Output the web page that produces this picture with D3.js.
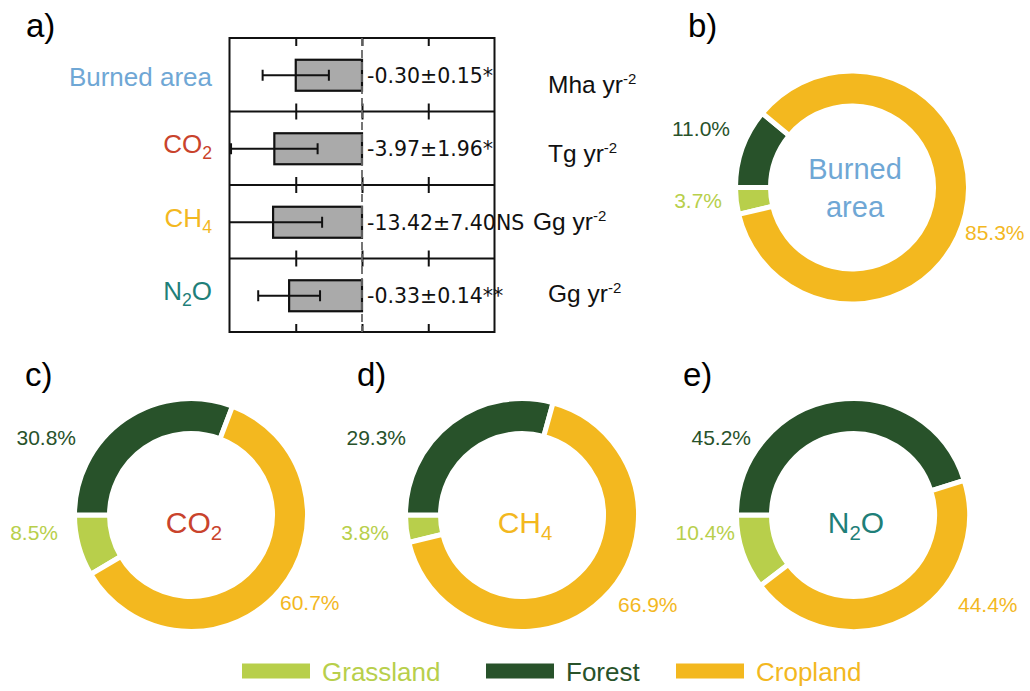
<!DOCTYPE html>
<html>
<head>
<meta charset="utf-8">
<script src="https://cdn.jsdelivr.net/npm/d3@7"></script>
<style>
  body { margin: 0; background: #fff; }
  svg { display: block; }
</style>
</head>
<body>
<svg id="fig" width="1030" height="691"></svg>
<script>
// ---------------- data ----------------
// Panel a: linear trends of burned area and fire emissions
const trendNames = ["Burned area", "CO2", "CH4", "N2O"];
const trendMean  = [-0.30, -3.97, -13.42, -0.33];
const trendErr   = [0.15, 1.96, 7.40, 0.14];
const trendSig   = ["*", "*", "NS", "**"];
const trendUnit  = ["Mha", "Tg", "Gg", "Gg"];
const axisLimit  = [0.6, 6, 20, 0.6];
const axisTicks  = [[-0.3, 0, 0.3], [-3, 0, 3], [-10, 0, 10], [-0.3, 0, 0.3]];

// Panels b-e: share of each land cover type (%)
const landTypes    = ["Grassland", "Forest", "Cropland"];
const burnedShare  = [3.7, 11.0, 85.3];
const co2Share     = [8.5, 30.8, 60.7];
const ch4Share     = [3.8, 29.3, 66.9];
const n2oShare     = [10.4, 45.2, 44.4];

// ---------------- styling ----------------
const nameColor = ["#6fa7d5", "#c9432c", "#f3b81f", "#1f7f79"];
const landColor = { Grassland: "#b8cf4b", Forest: "#28522a", Cropland: "#f3b81f" };
const SANS = "'Liberation Sans', Arial, Helvetica, sans-serif";
const MONO = "'DejaVu Sans', sans-serif";

const svg = d3.select("#fig");
const fmt = d3.formatLocale({ decimal: ".", thousands: ",", grouping: [3], currency: ["", ""], minus: "-" }).format(".2f");

// text with digits drawn as subscripts (chemical formulae)
function formula(sel, str, size) {
  if (!/\d/.test(str)) { sel.text(str); return; }
  str.split(/(\d)/).filter(s => s.length).forEach(part => {
    if (/^\d$/.test(part)) {
      sel.append("tspan").attr("font-size", size * 0.68).attr("dy", size * 0.22).text(part);
    } else {
      const t = sel.append("tspan").text(part);
      if (sel.selectAll("tspan").size() > 1) t.attr("dy", -size * 0.22);
    }
  });
}

// panel letters
const panelTags = [["a)", 26, 37], ["b)", 688, 37], ["c)", 25, 386], ["d)", 357, 386], ["e)", 683, 386]];
svg.selectAll("text.tag").data(panelTags).join("text")
  .attr("class", "tag")
  .attr("x", d => d[1])
  .attr("y", d => d[2])
  .attr("font-family", SANS).attr("font-size", 33).attr("fill", "#000")
  .text(d => d[0]);

// ---------------- panel a ----------------
const box = { left: 229.5, right: 494.5, top: 38, bottom: 332 };
const rowH = (box.bottom - box.top) / trendNames.length;
const barH = 31;

const defs = svg.append("defs");
defs.append("clipPath").attr("id", "boxClip")
  .append("rect").attr("x", box.left).attr("y", box.top)
  .attr("width", box.right - box.left).attr("height", box.bottom - box.top);

const pa = svg.append("g");

trendNames.forEach((name, i) => {
  const y0 = box.top + i * rowH;
  const yc = y0 + rowH / 2 + 0.5;
  const x = d3.scaleLinear().domain([-axisLimit[i], axisLimit[i]]).range([box.left, box.right]);
  const g = pa.append("g");

  // ticks on the top and bottom of each row, pointing inward
  const tickLen = 8;
  g.append("g").attr("transform", `translate(0,${y0})`)
    .call(d3.axisTop(x).tickValues(axisTicks[i]).tickSize(-tickLen).tickFormat(""))
    .call(s => s.select(".domain").remove())
    .call(s => s.selectAll(".tick line").attr("stroke", "#111").attr("stroke-width", 2));
  g.append("g").attr("transform", `translate(0,${y0 + rowH})`)
    .call(d3.axisBottom(x).tickValues(axisTicks[i]).tickSize(-tickLen).tickFormat(""))
    .call(s => s.select(".domain").remove())
    .call(s => s.selectAll(".tick line").attr("stroke", "#111").attr("stroke-width", 2));

  const clipG = g.append("g").attr("clip-path", "url(#boxClip)");
  // bar
  clipG.append("rect")
    .attr("x", x(Math.min(0, trendMean[i])))
    .attr("width", Math.abs(x(trendMean[i]) - x(0)))
    .attr("y", yc - barH / 2).attr("height", barH)
    .attr("fill", "#aaaaaa").attr("stroke", "#111").attr("stroke-width", 2.2);
  // error bar
  const lo = trendMean[i] - trendErr[i], hi = trendMean[i] + trendErr[i];
  clipG.append("line").attr("x1", x(lo)).attr("x2", x(hi)).attr("y1", yc).attr("y2", yc)
    .attr("stroke", "#111").attr("stroke-width", 2);
  clipG.selectAll("line.cap").data([lo, hi]).join("line").attr("class", "cap")
    .attr("x1", d => x(d)).attr("x2", d => x(d))
    .attr("y1", yc - 5.5).attr("y2", yc + 5.5)
    .attr("stroke", "#111").attr("stroke-width", 2);

  // value label
  g.append("text")
    .attr("x", x(0) + 5).attr("y", yc + 7.5)
    .attr("font-family", MONO).attr("font-size", 20.5).attr("fill", "#111")
    .text(`${fmt(trendMean[i])}±${fmt(trendErr[i])}${trendSig[i]}`);

  // row name
  const nm = pa.append("text")
    .attr("x", 212).attr("y", [86, 153, 227, 300][i])
    .attr("text-anchor", "end")
    .attr("font-family", SANS).attr("font-size", 26).attr("fill", nameColor[i]);
  formula(nm, name, 26);

  // unit
  const ut = pa.append("text")
    .attr("x", [548, 548, 533, 548][i]).attr("y", [93, 161.5, 230, 301.5][i])
    .attr("font-family", SANS).attr("font-size", 24.5).attr("fill", "#111");
  ut.append("tspan").text(`${trendUnit[i]} yr`);
  ut.append("tspan").attr("font-size", 15).attr("dy", -9).text("-2");
});

// frame, row separators and zero line
pa.append("rect")
  .attr("x", box.left).attr("y", box.top)
  .attr("width", box.right - box.left).attr("height", box.bottom - box.top)
  .attr("fill", "none").attr("stroke", "#111").attr("stroke-width", 2);
pa.selectAll("line.sep").data(d3.range(1, trendNames.length)).join("line").attr("class", "sep")
  .attr("x1", box.left).attr("x2", box.right)
  .attr("y1", i => box.top + i * rowH).attr("y2", i => box.top + i * rowH)
  .attr("stroke", "#111").attr("stroke-width", 2);
const zeroX = d3.scaleLinear().domain([-1, 1]).range([box.left, box.right])(0);
pa.append("line")
  .attr("x1", zeroX).attr("x2", zeroX).attr("y1", box.top).attr("y2", box.bottom)
  .attr("stroke", "#666").attr("stroke-width", 1.8).attr("stroke-dasharray", "8,4");

// ---------------- panels b-e: donuts ----------------
const donuts = [
  { title: "Burned area", share: burnedShare, color: nameColor[0], cx: 852, cy: 187.5,
    labelAt: { Forest: [-122, -52], Grassland: [-130, 20], Cropland: [113, 52] } },
  { title: "CO2", share: co2Share, color: nameColor[1], cx: 191, cy: 515,
    labelAt: { Forest: [-115, -70], Grassland: [-133, 25], Cropland: [89, 95] } },
  { title: "CH4", share: ch4Share, color: nameColor[2], cx: 522, cy: 515,
    labelAt: { Forest: [-116, -70], Grassland: [-133, 25], Cropland: [96, 97] } },
  { title: "N2O", share: n2oShare, color: nameColor[3], cx: 853, cy: 515,
    labelAt: { Forest: [-102, -70], Grassland: [-118, 25], Cropland: [105, 97] } }
];

const R_OUT = 114, R_IN = 84, GAP = 5;
// wedges run clockwise from 9 o'clock: Forest, Cropland, Grassland
const drawOrder = ["Forest", "Cropland", "Grassland"];
const pie = d3.pie().value(d => d.v)
  .sort((a, b) => drawOrder.indexOf(a.type) - drawOrder.indexOf(b.type))
  .startAngle(-Math.PI / 2).endAngle(Math.PI * 1.5);
const arc = d3.arc().innerRadius(R_IN - GAP / 2).outerRadius(R_OUT + GAP / 2);

donuts.forEach(dn => {
  const rows = landTypes.map((t, k) => ({ type: t, v: dn.share[k] }));
  const g = svg.append("g").attr("transform", `translate(${dn.cx},${dn.cy})`);
  const arcs = pie(rows);
  g.selectAll("path").data(arcs).join("path")
    .attr("d", arc)
    .attr("fill", d => landColor[d.data.type])
    .attr("stroke", "#fff").attr("stroke-width", GAP);

  g.selectAll("text.pct").data(arcs).join("text").attr("class", "pct")
    .attr("x", d => dn.labelAt[d.data.type][0])
    .attr("y", d => dn.labelAt[d.data.type][1])
    .attr("text-anchor", d => arc.centroid(d)[0] < 0 ? "end" : "start")
    .attr("font-family", SANS).attr("font-size", 21)
    .attr("fill", d => landColor[d.data.type])
    .text(d => `${d.data.v.toFixed(1)}%`);

  if (dn.title === "Burned area") {
    g.append("text").attr("x", 3).attr("y", -9).attr("text-anchor", "middle")
      .attr("font-family", SANS).attr("font-size", 29).attr("fill", dn.color).text("Burned");
    g.append("text").attr("x", 3).attr("y", 29).attr("text-anchor", "middle")
      .attr("font-family", SANS).attr("font-size", 29).attr("fill", dn.color).text("area");
  } else {
    const t = g.append("text").attr("x", 3).attr("y", 18).attr("text-anchor", "middle")
      .attr("font-family", SANS).attr("font-size", 30).attr("fill", dn.color);
    formula(t, dn.title, 30);
  }
});

// ---------------- legend ----------------
const legendX = [242, 486, 676];
const lg = svg.append("g");
landTypes.forEach((t, k) => {
  lg.append("rect").attr("x", legendX[k]).attr("y", 663.5).attr("width", 68).attr("height", 15)
    .attr("fill", landColor[t]);
  lg.append("text").attr("x", legendX[k] + 80).attr("y", 681)
    .attr("font-family", SANS).attr("font-size", 26).attr("fill", landColor[t]).text(t);
});
</script>
</body>
</html>
